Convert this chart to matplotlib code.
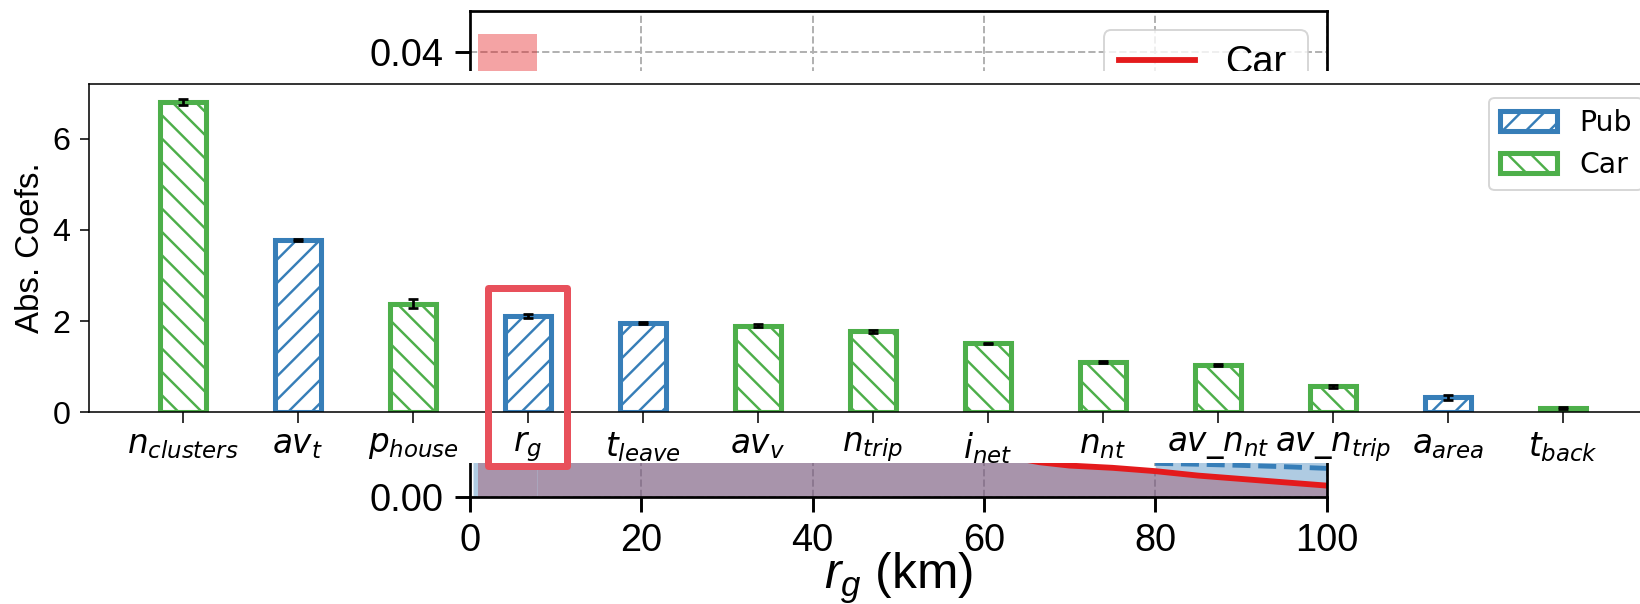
import numpy as np
import matplotlib
matplotlib.use('Agg')
import matplotlib.pyplot as plt
from matplotlib.patches import Rectangle
from matplotlib.ticker import FormatStrFormatter

plt.rcParams['font.family'] = ['Liberation Sans', 'DejaVu Sans']
plt.rcParams['mathtext.fontset'] = 'custom'
plt.rcParams['mathtext.rm'] = 'Liberation Sans'
plt.rcParams['mathtext.it'] = 'Liberation Sans:italic'
plt.rcParams['mathtext.bf'] = 'Liberation Sans:bold'
plt.rcParams['hatch.linewidth'] = 1.25

# background panel: distribution of r_g (mostly covered)
rg_grid = [0.35, 7.8, 15, 25, 35, 45, 55, 66.5, 70, 75, 80, 85, 90, 95, 100]
car_fit = [0.036, 0.034, 0.022, 0.014, 0.0095, 0.0066, 0.0047, 0.0031,
           0.0028, 0.0026, 0.0023, 0.0019, 0.0016, 0.0013, 0.0010]
car_first_bin = [0.9, 7.8]
car_first_height = [0.0416]
pub_tail_x = [80, 85, 90, 95, 100]
pub_tail_y = [0.0030, 0.00292, 0.00282, 0.0027, 0.00255]
pub_last_bin_height = 0.0033

# foreground panel: feature importance
features = ['$n_{clusters}$', '$av_t$', '$p_{house}$', '$r_g$', '$t_{leave}$',
            '$av_v$', '$n_{trip}$', '$i_{net}$', '$n_{nt}$', '$av\\_n_{nt}$',
            '$av\\_n_{trip}$', '$a_{area}$', '$t_{back}$']
coef_values = [6.81, 3.78, 2.38, 2.11, 1.96, 1.90, 1.78, 1.51, 1.10, 1.04, 0.57, 0.33, 0.09]
coef_errors = [0.06, 0.015, 0.10, 0.04, 0.02, 0.03, 0.03, 0.02, 0.02, 0.02, 0.03, 0.05, 0.02]
coef_modes = ['Car', 'Pub', 'Car', 'Pub', 'Pub', 'Car', 'Car', 'Car', 'Car', 'Car',
              'Car', 'Pub', 'Car']

RED = '#E41A1C'
BLUE = '#377EB8'
GREEN = '#4DAF4A'
HIGHLIGHT = '#E8505B'

W, H, DPI = 1640, 604, 140
fig = plt.figure(figsize=(W / DPI, H / DPI), dpi=DPI)

# --- background axes
ax_bg = fig.add_axes([470 / W, 1 - 496.7 / H, (1326.5 - 470) / W, (496.7 - 11) / H])
ax_bg.fill_between(rg_grid[1:], 0, car_fit[1:], color=RED, alpha=0.4, lw=0)
ax_bg.stairs(car_first_height, car_first_bin, fill=True, color=RED, alpha=0.4, lw=0)
ax_bg.fill_between(rg_grid, 0, car_fit, color=BLUE, alpha=0.4, lw=0)
ax_bg.fill_between(pub_tail_x, car_fit[-len(pub_tail_x):], pub_last_bin_height,
                   color=BLUE, alpha=0.4, lw=0)
ax_bg.plot(rg_grid[1:], car_fit[1:], color=RED, lw=3, label='Car')
ax_bg.plot(pub_tail_x, pub_tail_y, '--', color=BLUE, lw=2.5, label='Pub')
ax_bg.set_xlim(0, 100)
ax_bg.set_ylim(0, 0.0437)
ax_bg.set_xticks([0, 20, 40, 60, 80, 100])
ax_bg.set_yticks([0, 0.02, 0.04])
ax_bg.yaxis.set_major_formatter(FormatStrFormatter('%.2f'))
ax_bg.grid(True, ls='--', color='#b0b0b0', lw=1)
ax_bg.set_axisbelow(True)
ax_bg.tick_params(labelsize=19.5, length=7.5, width=1.5, pad=6)
for sp in ax_bg.spines.values():
    sp.set_linewidth(1.4)
ax_bg.set_xlabel('$r_g$ (km)', fontsize=25.5, labelpad=-4)
ax_bg.legend(loc='upper right', fontsize=19.5, handlelength=2)

# white backdrop of the inset figure
fig.add_artist(Rectangle((0, 1 - 462.7 / H), 1, (462.7 - 70.7) / H,
                         transform=fig.transFigure, facecolor='white',
                         edgecolor='none', zorder=5))

# --- foreground axes (extends past the right edge)
ax = fig.add_axes([88.6 / W, 1 - 412.3 / H, (1657 - 88.6) / W, (412.3 - 83.5) / H])
ax.set_zorder(10)
x = np.arange(len(features))
vals = np.array(coef_values)
errs = np.array(coef_errors)
modes = np.array(coef_modes)

for mode, color, hatch in [('Pub', BLUE, '//'), ('Car', GREEN, '\\\\')]:
    m = modes == mode
    ax.bar(x[m], vals[m], width=0.4, facecolor='white', edgecolor=color,
           hatch=hatch, lw=2.6, label=mode)
ax.errorbar(x, vals, yerr=errs, fmt='none', ecolor='black', elinewidth=1.4,
            capsize=2.6, capthick=1.4, zorder=3)

ax.set_xticks(x)
ax.set_xticklabels(features, fontsize=16.8, math_fontfamily='dejavusans')
ax.set_yticks([0, 2, 4, 6])
ax.tick_params(axis='y', labelsize=16.5, length=4.5, pad=5)
ax.tick_params(axis='x', length=5.5, pad=3.5)
ax.set_ylabel('Abs. Coefs.', fontsize=17, labelpad=3)
ax.legend(loc='upper right', prop={'family': 'DejaVu Sans', 'size': 14.5})

# highlight box around r_g
hi = features.index('$r_g$')
ax.add_patch(Rectangle((hi - 0.344, -1.17), 0.688, 2.72 + 1.17, fill=False,
                       edgecolor=HIGHLIGHT, lw=3.6, joinstyle='round',
                       clip_on=False, zorder=20))

fig.savefig('out.png', dpi=DPI)
